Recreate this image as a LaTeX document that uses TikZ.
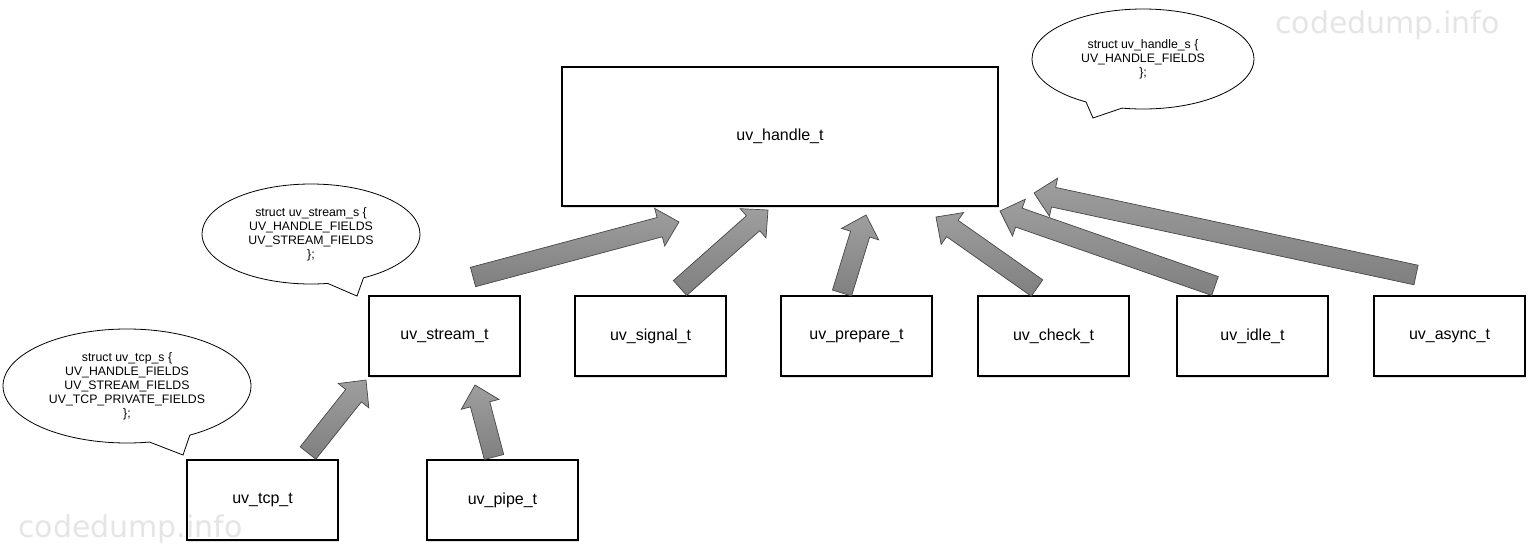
\documentclass[tikz,border=0pt]{standalone}
\usepackage{fontspec}
\setmainfont{Liberation Sans}
\newfontfamily\wmfont{DejaVu Sans}
\usetikzlibrary{calc,shapes.callouts,shadows}
\newcommand{\blockarrow}[2]{%
  \coordinate (hb) at ($(#2)!20pt!(#1)$);
  \draw[blockarr]
    ($(#1)!10pt!90:(#2)$) -- ($(hb)!10pt!90:(#2)$) -- ($(hb)!19.5pt!90:(#2)$) --
    (#2) --
    ($(hb)!19.5pt!-90:(#2)$) -- ($(hb)!10pt!-90:(#2)$) -- ($(#1)!10pt!-90:(#2)$) -- cycle;
}
\begin{document}
\begin{tikzpicture}[x=1pt,y=-1pt,
  box/.style={draw=black, line width=1.1pt, fill=white, minimum width=151pt,
    minimum height=80pt, inner sep=0pt, font=\fontsize{16}{19}\selectfont,
    drop shadow={shadow xshift=1pt, shadow yshift=-2pt, opacity=0.25}},
  bubble/.style={ellipse callout, draw=black, line width=0.8pt, fill=white,
    inner sep=0pt, align=center, font=\fontsize{12.3}{14}\selectfont,
    callout pointer arc=20},
  blockarr/.style={draw=black!72, line width=0.7pt, top color=black!38,
    bottom color=black!50, line join=miter},
  wm/.style={text=black!10, font=\wmfont\fontsize{30}{30}\selectfont,
    anchor=base west, inner sep=0pt}
]
\useasboundingbox (0,0) rectangle (1528,544);

% boxes
\node[box, minimum width=436pt, minimum height=139pt] (handle) at (780,136.5) {uv\_handle\_t};
\node[box] (stream)  at (444.5,336) {uv\_stream\_t};
\node[box] (signal)  at (650.5,336) {uv\_signal\_t};
\node[box] (prepare) at (856.5,336) {uv\_prepare\_t};
\node[box] (check)   at (1053.5,336) {uv\_check\_t};
\node[box] (idle)    at (1252.5,336) {uv\_idle\_t};
\node[box] (async)   at (1449.5,336) {uv\_async\_t};
\node[box] (tcp)     at (262.5,500) {uv\_tcp\_t};
\node[box] (pipe)    at (502.5,500) {uv\_pipe\_t};

% callouts
\node[bubble, minimum width=222pt, minimum height=100pt,
  callout absolute pointer={(1093,118)}] (handles) at (1143,59)
  {struct uv\_handle\_s \{\\ UV\_HANDLE\_FIELDS\\ \};};
\node[bubble, minimum width=218pt, minimum height=100pt,
  callout absolute pointer={(357,296)}] (streams) at (311,234)
  {struct uv\_stream\_s \{\\ UV\_HANDLE\_FIELDS\\ UV\_STREAM\_FIELDS\\ \};};
\node[bubble, minimum width=248pt, minimum height=114pt,
  callout absolute pointer={(183,455)}] (tcps) at (127,386)
  {struct uv\_tcp\_s \{\\ UV\_HANDLE\_FIELDS\\ UV\_STREAM\_FIELDS\\ UV\_TCP\_PRIVATE\_FIELDS\\ \};};

% arrow end points
\coordinate (t1) at (473,277);  \coordinate (h1) at (679,222);
\coordinate (t2) at (680,288);  \coordinate (h2) at (768,210);
\coordinate (t3) at (842,293);  \coordinate (h3) at (866,215);
\coordinate (t4) at (1037,288); \coordinate (h4) at (936,217);
\coordinate (t5) at (1215,286); \coordinate (h5) at (1000,211);
\coordinate (t6) at (1416,275); \coordinate (h6) at (1034,193);
\coordinate (t7) at (308,453);  \coordinate (h7) at (366,380);
\coordinate (t8) at (494,457);  \coordinate (h8) at (475,385);

\blockarrow{t1}{h1}
\blockarrow{t2}{h2}
\blockarrow{t3}{h3}
\blockarrow{t4}{h4}
\blockarrow{t5}{h5}
\blockarrow{t6}{h6}
\blockarrow{t7}{h7}
\blockarrow{t8}{h8}

% watermarks
\node[wm] (wm1) at (1275,33) {codedump.info};
\node[wm] (wm2) at (18,537) {codedump.info};
\end{tikzpicture}
\end{document}
